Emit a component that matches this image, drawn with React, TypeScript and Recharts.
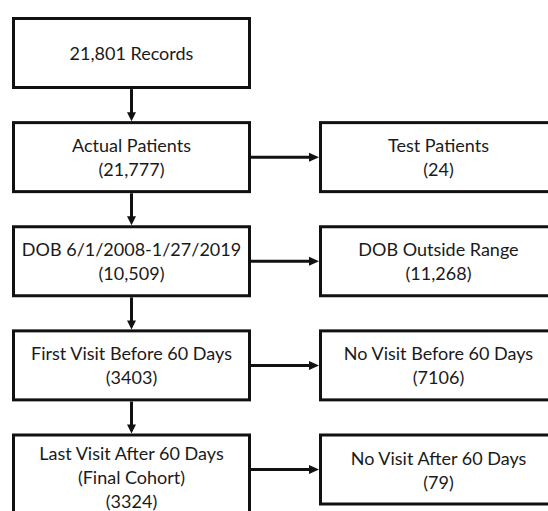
import React from 'react';
import { ScatterChart, Scatter, XAxis, YAxis } from 'recharts';

// Flow steps (main column, top to bottom)
const mainTitles: string[][] = [
  ['21,801 Records'],
  ['Actual Patients'],
  ['DOB 6/1/2008-1/27/2019'],
  ['First Visit Before 60 Days'],
  ['Last Visit After 60 Days', '(Final Cohort)'],
];
const mainCounts: string[] = ['', '(21,777)', '(10,509)', '(3403)', '(3324)'];
const mainRows: number[] = [0, 1, 2, 3, 4];

// Excluded branches (right column)
const excludedTitles: string[] = [
  'Test Patients',
  'DOB Outside Range',
  'No Visit Before 60 Days',
  'No Visit After 60 Days',
];
const excludedCounts: string[] = ['(24)', '(11,268)', '(7106)', '(79)'];
const excludedRows: number[] = [1, 2, 3, 4];

const mainData = mainRows.map((row, i) => ({
  col: 0,
  row,
  kind: 'main',
  lines: [...mainTitles[i], mainCounts[i]].filter((s) => s !== ''),
}));
const excludedData = excludedRows.map((row, i) => ({
  col: 1,
  row,
  kind: 'excluded',
  lines: [excludedTitles[i], excludedCounts[i]],
}));

const BOX_W = 236;
const BOX_H = 69;
const LINE_H = 24;
const V_GAP = 32;
const H_GAP = 68;
const STROKE = '#111';
const FONT = 'Lato, "Open Sans", sans-serif';
const FONT_SIZE = 18;

const ArrowDown = ({ x, y1, y2 }: { x: number; y1: number; y2: number }) => (
  <g>
    <line x1={x} y1={y1} x2={x} y2={y2 - 7} stroke={STROKE} strokeWidth={3} />
    <polygon points={`${x - 4.5},${y2 - 9} ${x + 4.5},${y2 - 9} ${x},${y2}`} fill={STROKE} />
  </g>
);

const ArrowRight = ({ y, x1, x2 }: { y: number; x1: number; x2: number }) => (
  <g>
    <line x1={x1} y1={y} x2={x2 - 7} y2={y} stroke={STROKE} strokeWidth={3} />
    <polygon points={`${x2 - 10},${y - 4.5} ${x2 - 10},${y + 4.5} ${x2},${y}`} fill={STROKE} />
  </g>
);

const NodeShape = (props: any) => {
  const { cx, cy, payload } = props;
  if (cx == null || cy == null) return null;
  const lines: string[] = payload.lines;
  const extra = Math.max(0, lines.length - 2) * 15;
  const top = cy - (BOX_H + 3) / 2 + 1.5;
  const h = BOX_H + extra;
  const textMid = top + h / 2;
  const firstBaseline = textMid + 7 - ((lines.length - 1) * LINE_H) / 2;
  return (
    <g>
      {payload.kind === 'main' && payload.row > 0 && (
        <ArrowDown x={cx} y1={top - 1.5 - V_GAP} y2={top - 1.5} />
      )}
      {payload.kind === 'excluded' && (
        <ArrowRight y={cy} x1={cx - BOX_W / 2 - 1.5 - H_GAP} x2={cx - BOX_W / 2 - 1.5} />
      )}
      <rect
        x={cx - BOX_W / 2}
        y={top}
        width={BOX_W}
        height={h}
        fill="#fff"
        stroke={STROKE}
        strokeWidth={3}
      />
      {lines.map((t, i) => (
        <text
          key={i}
          x={cx}
          y={firstBaseline + i * LINE_H}
          textAnchor="middle"
          fontFamily={FONT}
          fontSize={FONT_SIZE}
          fill="#1a1a1a"
        >
          {t}
        </text>
      ))}
    </g>
  );
};

export default function App() {
  return (
    <div style={{ position: 'absolute', left: 0, top: 0, width: 548, height: 511, background: '#fff' }}>
      <ScatterChart
        width={548}
        height={511}
        margin={{ top: 53, bottom: 41.5, left: 131.5, right: 109.5 }}
      >
        <XAxis type="number" dataKey="col" domain={[0, 1]} hide />
        <YAxis type="number" dataKey="row" domain={[0, 4]} reversed hide />
        <Scatter data={mainData} shape={NodeShape} isAnimationActive={false} />
        <Scatter data={excludedData} shape={NodeShape} isAnimationActive={false} />
      </ScatterChart>
    </div>
  );
}
